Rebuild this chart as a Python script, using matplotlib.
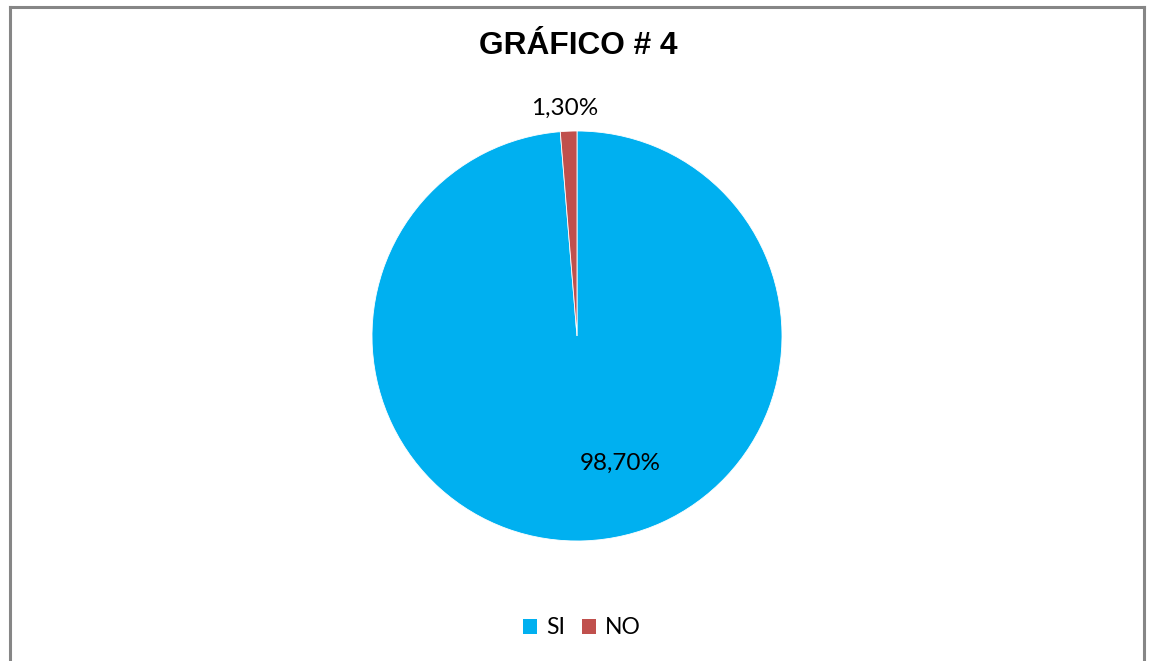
import matplotlib
matplotlib.use("Agg")
import matplotlib.pyplot as plt
from matplotlib.patches import Patch

categories = ["SI", "NO"]
values = [98.70, 1.30]
labels_txt = ["98,70%", "1,30%"]
colors = ["#00B0F0", "#C0504D"]
title = "GRÁFICO # 4"

fig = plt.figure(figsize=(11.52, 6.61), dpi=100)
fig.patch.set_facecolor("white")

# Border (top, left, right)
fig.add_artist(plt.Line2D([10/1152, 10/1152], [0, 1 - 7/661], transform=fig.transFigure, color="#868686", lw=2.2))
fig.add_artist(plt.Line2D([10/1152, 1144/1152], [1 - 7/661, 1 - 7/661], transform=fig.transFigure, color="#868686", lw=2.2))
fig.add_artist(plt.Line2D([1144/1152, 1144/1152], [0, 1 - 7/661], transform=fig.transFigure, color="#868686", lw=2.2))

w = 410 / 1152
h = 410 / 661
cx = 577 / 1152
cy = 1 - 336 / 661
ax = fig.add_axes([cx - w / 2, cy - h / 2, w, h])
wedges, _ = ax.pie(values, colors=colors, startangle=90, counterclock=False,
                   wedgeprops=dict(edgecolor="white", linewidth=0.6))
ax.set_xlim(-1, 1)
ax.set_ylim(-1, 1)
ax.set_aspect("equal")
ax.axis("off")

font = ["Lato", "DejaVu Sans"]
ax.text(0.21, -0.62, labels_txt[0], ha="center", va="center", fontsize=17.5, family=font, color="black")
ax.text(-0.06, 1.11, labels_txt[1], ha="center", va="center", fontsize=17.5, family=font, color="black",
        clip_on=False)

fig.text(578 / 1152, 1 - 46 / 661, title, ha="center", va="center", fontsize=22.8,
         fontweight="bold", family=["Liberation Sans", "DejaVu Sans"])

handles = [Patch(facecolor=c, edgecolor="none") for c in colors]
leg = fig.legend(handles, categories, loc="center", bbox_to_anchor=(582 / 1152, 1 - 628 / 661),
                 ncol=2, frameon=False, prop={"family": font, "size": 16.5},
                 handlelength=0.62, handleheight=0.62, handletextpad=0.4, columnspacing=0.7)

fig.savefig("out.png", dpi=100)
